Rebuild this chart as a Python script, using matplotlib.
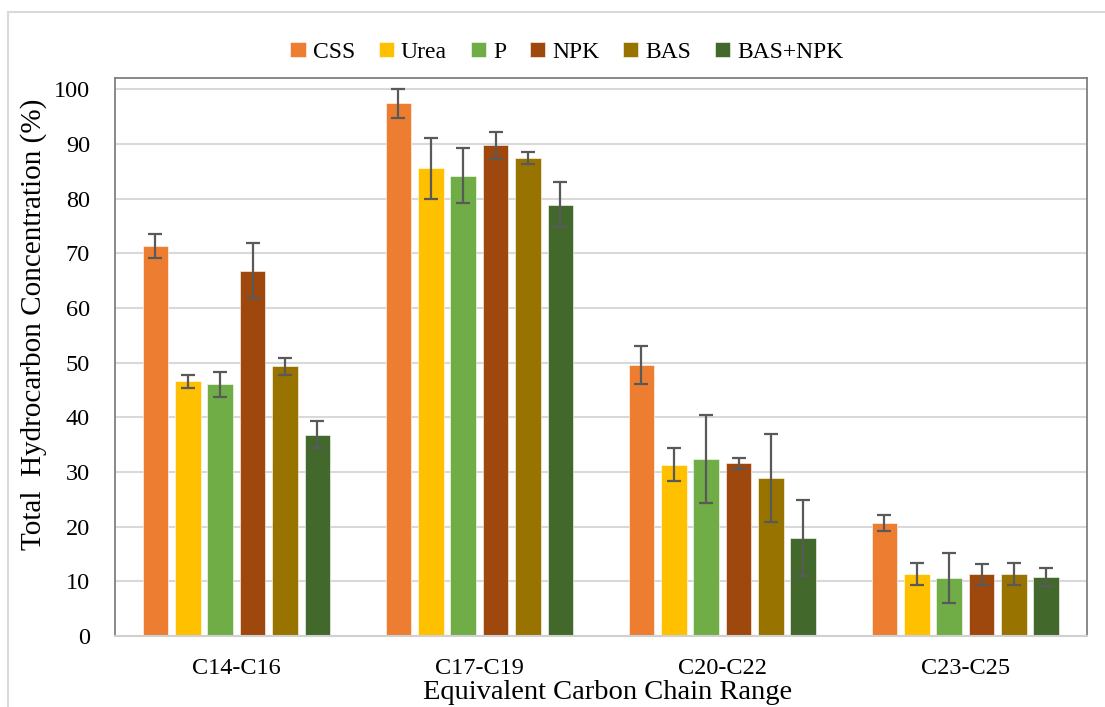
import numpy as np
import matplotlib
matplotlib.use("Agg")
import matplotlib.pyplot as plt
from matplotlib.patches import Rectangle

plt.rcParams['font.family'] = ['Liberation Serif', 'DejaVu Serif']

categories = ["C14-C16", "C17-C19", "C20-C22", "C23-C25"]
series = ["CSS", "Urea", "P", "NPK", "BAS", "BAS+NPK"]
colors = ["#ED7D31", "#FFC000", "#70AD47", "#9E480E", "#997300", "#43682B"]

css = [71.4, 97.4, 49.5, 20.7]
urea = [46.6, 85.5, 31.3, 11.3]
p = [46.0, 84.2, 32.4, 10.6]
npk = [66.8, 89.7, 31.6, 11.3]
bas = [49.3, 87.4, 28.9, 11.3]
bas_npk = [36.8, 78.9, 17.9, 10.8]

css_err = [2.2, 2.6, 3.5, 1.5]
urea_err = [1.2, 5.6, 3.0, 2.0]
p_err = [2.3, 5.0, 8.0, 4.5]
npk_err = [5.0, 2.5, 1.0, 1.9]
bas_err = [1.5, 1.1, 8.0, 2.0]
bas_npk_err = [2.5, 4.1, 7.0, 1.6]

values = [css, urea, p, npk, bas, bas_npk]
errors = [css_err, urea_err, p_err, npk_err, bas_err, bas_npk_err]

fig = plt.figure(figsize=(11.05, 7.07), dpi=100)
ax = fig.add_axes([0.104, 0.1004, 0.8796, 0.789])

# outer chart frame, runs off the right and bottom edge
fig.patches.append(Rectangle((8 / 1105, -0.1), 1.2, 1.1 - 12 / 707,
                             transform=fig.transFigure, fill=False,
                             edgecolor="#d9d9d9", linewidth=1.5))

x = np.arange(len(categories))
pitch = 0.1333
width = 0.106
for i, name in enumerate(series):
    pos = x + (i - 2.5) * pitch
    ax.bar(pos, values[i], width, color=colors[i], label=name, zorder=2,
           edgecolor="white", linewidth=0.4)
    ax.errorbar(pos, values[i], yerr=errors[i], fmt="none", ecolor="#595959",
                elinewidth=1.6, capsize=5, capthick=1.6, zorder=3)

ax.set_xlim(-0.5, 3.5)
ax.set_ylim(0, 102)
ax.set_yticks(range(0, 101, 10))
ax.set_xticks(x)
ax.set_xticklabels(categories)
ax.yaxis.grid(True, color="#d9d9d9", linewidth=1.5, zorder=0)
ax.set_axisbelow(True)
ax.tick_params(axis="both", length=0, labelsize=17.5)
ax.tick_params(axis="y", pad=18)
ax.tick_params(axis="x", pad=15.5)

for s in ["left", "top", "right"]:
    ax.spines[s].set_color("#808080")
    ax.spines[s].set_linewidth(1.3)
ax.spines["bottom"].set_color("#d0d0d0")
ax.spines["bottom"].set_linewidth(1.5)

ax.set_xlabel("Equivalent Carbon Chain Range", fontsize=20.5)
ax.xaxis.set_label_coords(0.507, -0.079)
ax.set_ylabel("Total  Hydrocarbon Concentration (%)", fontsize=21)
ax.yaxis.set_label_coords(-0.070, 0.559)

fig.legend(loc="center", bbox_to_anchor=(0.513, 0.926), ncol=6, frameon=False,
           fontsize=17, handlelength=0.65, handleheight=0.65, handletextpad=0.3,
           columnspacing=1.0)

fig.savefig("out.png", dpi=100)
